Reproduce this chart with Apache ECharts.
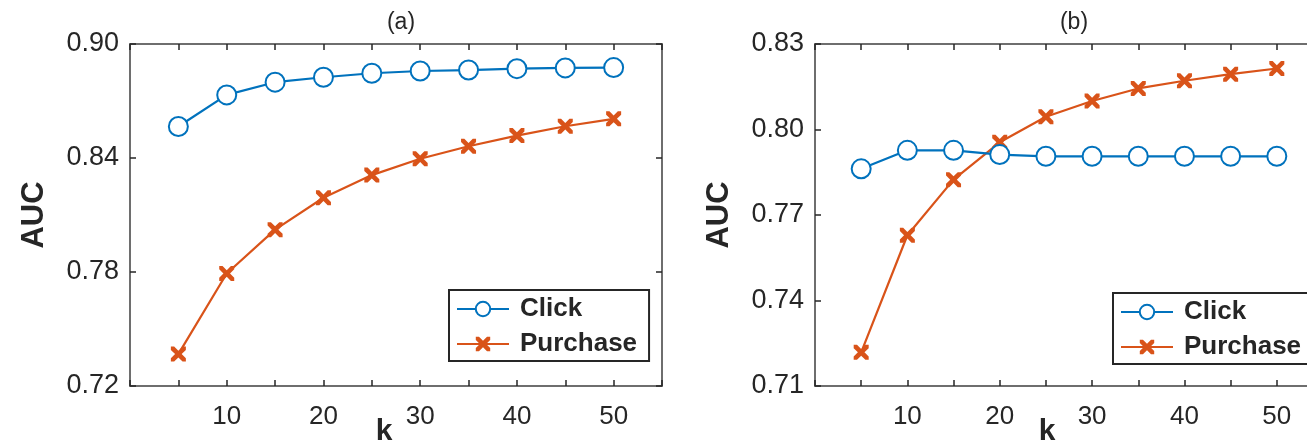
<!DOCTYPE html>
<html>
<head>
<meta charset="utf-8">
<script src="https://cdn.jsdelivr.net/npm/echarts@6/dist/echarts.min.js"></script>
<style>html,body{margin:0;padding:0;background:#fff;}#chart{width:1307px;height:442px;}</style>
</head>
<body>
<div id="chart"></div>
<script>
// ---- data ----
const kValues = [5, 10, 15, 20, 25, 30, 35, 40, 45, 50];
const clickA = [0.8566, 0.8732, 0.8799, 0.8825, 0.8846, 0.8858, 0.8863, 0.8870, 0.8874, 0.8876];
const purchaseA = [0.7368, 0.7792, 0.8023, 0.8191, 0.8310, 0.8396, 0.8462, 0.8518, 0.8567, 0.8606];
const clickB = [0.7862, 0.7927, 0.7927, 0.7912, 0.7906, 0.7906, 0.7906, 0.7906, 0.7906, 0.7906];
const purchaseB = [0.7218, 0.7629, 0.7824, 0.7955, 0.8045, 0.8100, 0.8144, 0.8171, 0.8194, 0.8214];
const seriesNames = ['Click', 'Purchase'];
const panelTitles = ['(a)', '(b)'];
const yRangeA = [0.72, 0.90, 0.06];
const yRangeB = [0.71, 0.83, 0.03];
const xRange = [0, 55, 5];

// ---- styling ----
const FONT = 'Liberation Sans, Arial, Helvetica, sans-serif';
const TXT = '#262626';
const BLUE = '#0072BD';
const ORANGE = '#D95319';
const AXC = '#6e6e6e';
const XMARK = 'path://M0,0 L2.2,0 L5,2.8 L7.8,0 L10,0 L10,2.2 L7.2,5 L10,7.8 L10,10 L7.8,10 L5,7.2 L2.2,10 L0,10 L0,7.8 L2.8,5 L0,2.2 Z';

const grids = [
  {left: 130, top: 44, width: 532, height: 342, outerBoundsMode: 'none', containLabel: false},
  {left: 815, top: 44, width: 508, height: 342, outerBoundsMode: 'none', containLabel: false}
];

function pairs(xs, ys) { return xs.map((x, i) => [x, ys[i]]); }

function axisLine() { return {show: true, onZero: false, lineStyle: {color: AXC, width: 2}}; }
function axisTick() { return {show: true, inside: true, length: 6, lineStyle: {color: TXT, width: 1.5}}; }

function xAxes(gi, nameShift) {
  return [
    {
      type: 'value', gridIndex: gi, position: 'bottom',
      min: xRange[0], max: xRange[1], interval: xRange[2],
      axisLine: axisLine(), axisTick: axisTick(), splitLine: {show: false},
      axisLabel: {
        margin: 18, color: TXT, fontFamily: FONT, fontSize: 26,
        formatter: v => (v % 10 === 0 && v > 0 && v <= 50) ? String(v) : ''
      },
      name: 'k', nameLocation: 'middle', nameGap: 31, nameMoveOverlap: false,
      nameTextStyle: {color: TXT, fontFamily: FONT, fontSize: 30, fontWeight: 'bold', padding: [0, nameShift, 0, 0]}
    },
    {
      type: 'value', gridIndex: gi, position: 'top',
      min: xRange[0], max: xRange[1], interval: xRange[2],
      axisLine: axisLine(), axisTick: axisTick(), splitLine: {show: false},
      axisLabel: {show: false}
    }
  ];
}

function yAxes(gi, r) {
  return [
    {
      type: 'value', gridIndex: gi, position: 'left',
      min: r[0], max: r[1], interval: r[2],
      axisLine: axisLine(), axisTick: axisTick(), splitLine: {show: false},
      axisLabel: {margin: 11, color: TXT, fontFamily: FONT, fontSize: 27, formatter: v => v.toFixed(2)},
      name: 'AUC', nameLocation: 'middle', nameGap: 80, nameRotate: 90, nameMoveOverlap: false,
      nameTextStyle: {color: TXT, fontFamily: FONT, fontSize: 31, fontWeight: 'bold'}
    },
    {
      type: 'value', gridIndex: gi, position: 'right',
      min: r[0], max: r[1], interval: r[2],
      axisLine: axisLine(), axisTick: axisTick(), splitLine: {show: false},
      axisLabel: {show: false}
    }
  ];
}

function lineSeries(name, data, xi, yi) {
  const isClick = name === 'Click';
  return {
    name: name, type: 'line', xAxisIndex: xi, yAxisIndex: yi,
    data: data,
    symbol: isClick ? 'emptyCircle' : XMARK,
    symbolSize: isClick ? 19 : 15,
    showAllSymbol: true,
    lineStyle: {color: isClick ? BLUE : ORANGE, width: 2.2},
    itemStyle: isClick ? {color: BLUE, borderColor: BLUE, borderWidth: 2.5} : {color: ORANGE, borderColor: ORANGE, borderWidth: 0},
    emphasis: {disabled: true},
    animation: false, z: isClick ? 3 : 2
  };
}

function legend(id, left, top) {
  return {
    id: id, orient: 'vertical', left: left, top: top,
    data: seriesNames,
    backgroundColor: '#fff',
    borderColor: '#262626', borderWidth: 2, borderRadius: 0,
    padding: [6, 12, 4, 7],
    itemWidth: 52, itemHeight: 18, itemGap: 9,
    textStyle: {color: TXT, fontFamily: FONT, fontSize: 26, fontWeight: 'bold', padding: [0, 0, 0, 6]},
    selectedMode: false
  };
}

const chart = echarts.init(document.getElementById('chart'), null, {renderer: 'canvas'});
const option = {
  animation: false,
  backgroundColor: '#ffffff',
  title: [
    {text: panelTitles[0], left: 396, top: 6, textAlign: 'center',
     textStyle: {color: TXT, fontFamily: FONT, fontSize: 23, fontWeight: 'normal'}},
    {text: panelTitles[1], left: 1069, top: 6, textAlign: 'center',
     textStyle: {color: TXT, fontFamily: FONT, fontSize: 23, fontWeight: 'normal'}}
  ],
  grid: grids,
  legend: [legend('la', 449, 290), legend('lb', 1113, 293)],
  xAxis: [].concat(xAxes(0, 24), xAxes(1, 44)),
  yAxis: [].concat(yAxes(0, yRangeA), yAxes(1, yRangeB)),
  series: [
    lineSeries(seriesNames[0], pairs(kValues, clickA), 0, 0),
    lineSeries(seriesNames[1], pairs(kValues, purchaseA), 0, 0),
    lineSeries(seriesNames[0], pairs(kValues, clickB), 2, 2),
    lineSeries(seriesNames[1], pairs(kValues, purchaseB), 2, 2)
  ]
};
chart.setOption(option);
</script>
</body>
</html>
